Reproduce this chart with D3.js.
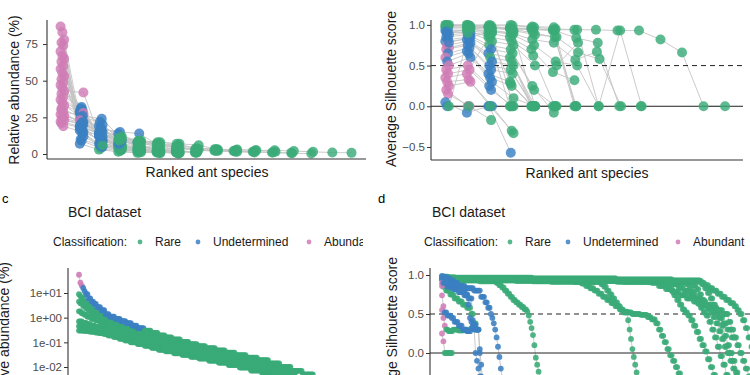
<!DOCTYPE html>
<html>
<head>
<meta charset="utf-8">
<script src="https://cdn.jsdelivr.net/npm/d3@7"></script>
<style>
  body { margin: 0; background: #fff; }
  svg { font-family: "Liberation Sans", Arial, sans-serif; }
  .tick text { fill: #4d4d4d; font-size: 11.5px; }
  .tick line { stroke: #333; }
</style>
</head>
<body>
<svg width="750" height="375"></svg>
<script>
// classification colours: A = abundant, U = undetermined, R = rare
const classColor = { A: "#cf7cb5", U: "#3b80c2", R: "#3aab78" };
const legendItems = [["R", "Rare"], ["U", "Undetermined"], ["A", "Abundant"]];

// panel a: relative abundance (%) of ranked ant species, one array per community
const antAbundance = [
  [87, 7, 3, 1.5, 0.8], [83, 9, 4, 2, 1], [78, 12, 5, 3, 1.2, 0.6], [76, 10, 6, 4, 2, 1],
  [74, 14, 5, 3, 2, 1], [70, 16, 7, 4, 2, 1], [67, 18, 8, 4, 2, 1], [65, 15, 9, 5, 3, 2, 1],
  [63, 20, 8, 5, 2, 1.5], [60, 22, 10, 4, 2, 1, 0.6], [58, 18, 12, 6, 3, 2, 1],
  [55, 25, 10, 5, 3, 1.5, 0.5], [53, 27, 9, 6, 3, 1.5, 0.5], [51, 24, 12, 7, 3, 2, 1],
  [49, 30, 10, 6, 3, 1.5, 0.5], [47, 28, 13, 6, 4, 2], [45, 32, 12, 6, 3, 2],
  [43, 42, 6, 4, 2, 1.5, 1], [41, 31, 14, 7, 4, 2, 1], [39, 26, 16, 9, 5, 3, 2],
  [37, 29, 15, 8, 5, 3, 2, 1], [35, 24, 18, 10, 6, 4, 2, 1], [33, 28, 20, 9, 5, 3, 2],
  [31, 25, 22, 10, 6, 3, 2, 1], [29, 26, 24, 11, 5, 3, 1.5], [27, 23, 19, 14, 8, 5, 3, 1],
  [25, 21, 17, 15, 14, 6, 2, 1], [23, 20, 15, 12, 9, 8, 7, 6, 3, 3, 2.5, 1.5],
  [21, 18, 14, 11, 9, 8, 7, 4, 3.5, 2, 1.5, 1, 0.5, 0.3],
  [19, 15, 13, 11, 8, 7, 6, 3.5, 3, 2.8, 2.5, 2.5, 2, 1.5, 1, 0.8],
  [22, 19, 14, 10, 8, 7, 5, 3, 2.5, 2, 1.5, 1, 0.8], [24, 20, 16, 11, 9, 7, 5, 3, 2.5, 1.5, 1],
  [26, 22, 12, 10, 8, 6, 4, 3, 2, 1.5], [30, 20, 13, 9, 7, 6, 4, 2.5, 2]
];
const antAbundanceClass = [
  "AURRR", "AURRR", "AUURRR", "AUURRR", "AUURRR", "AUURRR", "AUURRR", "AUURRRR",
  "AUURRR", "AUURRRR", "AUUURRR", "AUURRRR", "AAURRRR", "AUURRRR", "AUURRRR", "AUURRR",
  "AUUURR", "AARRRRR", "AUUURRR", "AUUURRR", "AUUURRRR", "AUUURRRR", "AAUURRR",
  "AUUURRRR", "AUUURRR", "AAUUURRR", "AUUUURRR", "AUURRRRRRRRR", "AURRRRRRRRRRRR",
  "AURRRRRRRRRRRRRR", "AUURRRRRRRRRR", "AUURRRRRRRR", "AUURRRRRRR", "AUURRRRRR"
];

// panel b: average silhouette score of ranked ant species, one array per community
const antSilhouette = [
  [1.0, 1.0, 0.98, 0.96, 0.95, 0.94, 0.94, 0.94, 0.93, 0.93, 0.82, 0.66, 0, 0],
  [0.99, 0.99, 0.97, 0.95, 0.94, 0.93, 0.84, 0.78, 0, 0], [1.0, 0.98, 0.96, 0.93, 0.88, 0.85, 0.66, 0.58, 0],
  [0.98, 0.97, 0.94, 0.9, 0.82, 0.78, 0.57, 0.67], [0.95, 0.95, 0.92, 0.88, 0.75, 0.55, 0.5, 0],
  [0.93, 0.93, 0.9, 0.85, 0.7, 0.42, 0.32], [0.9, 0.92, 0.85, 0.8, 0.62, 0, 0],
  [0.88, 0.9, 0.8, 0.75, 0.5, 0.5, 0.78], [0.85, 0.88, 0.75, 0.7, 0.25, -0.08],
  [0.82, 0.85, 0.7, 0.65, 0.2, 0], [0.8, 0.82, 0.65, 0.6, 0, 0], [0.75, 0.8, 0.6, 0.55, 0],
  [0.72, 0.78, 0.55, 0.5, 0], [0.7, 0.75, 0.5, 0.45, 0], [0.65, 0.72, 0.45, 0.4, 0],
  [0.6, 0.68, 0.4, 0.3, 0], [0.55, 0.65, 0.35, 0.25, 0], [0.5, 0.6, 0.3, 0.1, 0],
  [0.45, 0.5, 0.25, 0], [0.4, 0.45, 0.2, 0], [0.35, 0.4, 0.85, 0], [0.3, 0.33, 0, -0.3],
  [0.25, 0.3, 0, -0.33], [0.2, 0, 0, -0.57], [0.15, 0, -0.17], [0.05, -0.08, 0],
  [0, 0, 0, 0, 0, 0], [0, 0.95, 0.9, 0, 0], [1.0, 1.0, 1.0, 1.0, 0.98, 0.97, 0],
  [0.99, 0.99, 0.99, 0.99, 0.97, 0.95, 0.94, 0, 0.93, 0], [0.97, 0.97, 0.97, 0.96, 0.96, 0.93, 0],
  [0.9, 0.95, 0.97, 0.95, 0.9, 0.85, 0], [0.78, 0.85, 0.92, 0.9, 0, 0], [0.92, 0.9, 0.88, 0.28, 0]
];
const antSilhouetteClass = [
  "RRRRRRRRRRRRRR", "RRRRRRRRRR", "RRRRRRRRR", "URRRRRRR", "URRRRRRR", "URRRRRR", "URRRRRR",
  "UURRRRR", "UURRRR", "UUURRR", "UUURRR", "AURRR", "AUURR", "AUURR", "UUURR", "AUURR",
  "UUURR", "AUURR", "AAUR", "AAUR", "AARR", "AAUR", "AAUR", "AAUU", "AAR", "UUU",
  "URRRRR", "RRRRR", "RRRRRRR", "RRRRRRRRRR", "RRRRRRR", "URRRRRR", "UURRRR", "URRRRR"
];

// panel c: BCI relative abundance per plot, as runs of [value, number of ranks, class]
const bciAbundanceRuns = [
  [[0.3,4],[0.29,4],[0.27,4],[0.25,3],[0.235,3],[0.22,3],[0.19,4],[0.165,4],[0.14,4],[0.12,4],
   [0.1,5],[0.085,5],[0.072,5],[0.06,5],[0.05,5],[0.043,6],[0.036,6],[0.031,6],[0.026,6],
   [0.022,7],[0.018,7],[0.015,7],[0.012,8],[0.0095,8],[0.0072,8],[0.0055,8],[0.004,8],[0.0029,8]],
  [[0.45,3],[0.4,3],[0.36,3],[0.33,3],[0.3,3],[0.27,3],[0.26,3],[0.23,4],[0.2,4],[0.165,4],[0.135,4],
   [0.112,5],[0.095,5],[0.08,5],[0.068,5],[0.056,5],[0.048,6],[0.04,6],[0.034,6],[0.029,6],
   [0.024,7],[0.02,7],[0.016,7],[0.013,8],[0.01,8],[0.0078,8],[0.006,8],[0.0044,8],[0.0032,8]],
  [[0.7,3],[0.62,3],[0.55,3],[0.48,3],[0.42,3],[0.38,3],[0.35,3],[0.3,4],[0.24,4],[0.19,4],[0.15,4],
   [0.125,5],[0.105,5],[0.088,5],[0.075,5],[0.063,5],[0.053,6],[0.045,6],[0.038,6],[0.032,6],
   [0.026,7],[0.021,7],[0.018,7],[0.014,8],[0.011,8],[0.0085,8],[0.0065,8],[0.0048,8],[0.0035,8]],
  [[1.8,2],[1.5,2],[1.3,2],[1.1,3],[0.9,3],[0.78,3],[0.65,3],[0.5,3],[0.41,4],[0.34,4],[0.27,4],[0.2,4],
   [0.165,5],[0.135,5],[0.11,5],[0.095,5],[0.08,5],[0.066,6],[0.054,6],[0.045,6],[0.038,6],
   [0.032,7],[0.026,7],[0.022,7],[0.017,8],[0.013,8],[0.01,8],[0.008,8],[0.006,8],[0.0043,8]],
  [[4.5,1],[3.8,2],[3.0,2],[2.4,2],[1.9,2],[1.6,2],[1.4,1],[1.15,3],[0.92,3],[0.7,3],[0.58,4],[0.47,4],
   [0.38,4],[0.29,4],[0.235,5],[0.19,5],[0.155,5],[0.125,5],[0.1,5],[0.083,6],[0.068,6],[0.056,6],
   [0.048,6],[0.04,7],[0.033,7],[0.028,7],[0.022,8],[0.017,8],[0.013,8],[0.01,8],[0.0075,8],[0.0054,8]],
  [[9,1],[7.5,1],[6,2],[4.5,2],[3.4,2],[2.6,2],[2.0,2],[1.6,3],[1.25,3],[0.95,3],[0.8,4],[0.64,4],
   [0.52,4],[0.41,4],[0.33,5],[0.27,5],[0.22,5],[0.175,5],[0.14,5],[0.115,6],[0.093,6],[0.075,6],
   [0.065,6],[0.054,7],[0.043,7],[0.035,7],[0.028,8],[0.022,8],[0.017,8],[0.013,8],[0.0095,8],[0.0068,8]],
  [[55,1,"A"],[26,1,"A"],[20,1,"A"],[16,1,"U"],[12,1,"U"],[9,2,"U"],[6,2,"U"],[4.5,2,"U"],[3.6,2,"U"],
   [2.7,3,"U"],[2.0,3,"U"],[1.4,3,"U"],[1.1,4,"U"],[0.9,4,"U"],[0.72,4,"U"],[0.6,4,"U"],[0.48,4,"U"],
   [0.38,5,"U"],[0.3,5],[0.24,5],[0.19,5],[0.16,5],[0.13,6],[0.105,6],[0.085,6],[0.07,6],[0.058,7],
   [0.047,7],[0.038,7],[0.03,8],[0.024,8],[0.019,8],[0.014,8],[0.01,8],[0.007,8],[0.005,8],[0.0035,8]]
];
const bciAbundanceTicks = [10, 1, 0.1, 0.01];
const bciAbundanceTickLabels = ["1e+01", "1e+00", "1e-01", "1e-02"];

// panel d: BCI average silhouette score per plot, as runs of [value, number of ranks, class]
const bciSilhouetteRuns = [
  [[0.97,1,"U"],[0.95,2],[0.94,12],[0.93,12],[0.92,12],[0.9,2],[0.87,2],[0.84,2],[0.8,2],[0.76,2],
   [0.72,2],[0.68,2],[0.65,2],[0.62,2],[0.59,2],[0.56,2],[0.53,1],[0.48,1],[0.4,1],[0.32,1],[0.23,1],
   [0.1,1],[-0.06,1],[-0.15,1],[-0.24,1],[-0.33,1]],
  [[0.96,3],[0.945,25],[0.935,25],[0.925,25],[0.915,22],[0.89,3],[0.86,3],[0.83,3],[0.8,3],[0.76,3],
   [0.72,3],[0.68,3],[0.64,3],[0.6,3],[0.56,3],[0.53,3],[0.42,1],[0.3,1],[0.18,1],[0.05,1],[-0.05,1],
   [-0.15,1],[-0.25,1],[-0.35,1]],
  [[0.95,5],[0.94,30],[0.93,30],[0.92,30],[0.91,19],[0.88,2],[0.85,2],[0.8,2],[0.75,2],[0.7,2],[0.65,2],
   [0.6,2],[0.55,2],[0.52,6],[0.5,6],[0.49,5],[0.46,3],[0.43,3],[0.38,2],[0.3,2],[0.22,2],[0.14,2],
   [0.05,2],[-0.03,2],[-0.1,2],[-0.18,2],[-0.26,2],[-0.34,2]],
  [[0.96,5],[0.945,40],[0.935,40],[0.925,40],[0.915,35],[0.88,2],[0.84,2],[0.8,2],[0.74,2],[0.68,2],
   [0.62,2],[0.56,2],[0.52,2],[0.48,2],[0.42,2],[0.35,2],[0.27,2],[0.18,2],[0.1,2],[0.02,2],[-0.08,2],
   [-0.18,2],[-0.28,2]],
  [[0.96,20],[0.94,60],[0.93,60],[0.92,25],[0.88,4],[0.84,4],[0.8,4],[0.75,4],[0.7,4],[0.66,4],
   [0.62,4],[0.58,4],[0.55,4],[0.5,4],[0.4,2],[0.3,2],[0.2,2],[0.1,2],[0,2],[-0.1,2],[-0.2,2],[-0.3,2]],
  [[0.97,5],[0.95,40],[0.94,50],[0.93,50],[0.92,30],[0.88,2],[0.83,2],[0.78,2],[0.7,2],[0.63,2],[0.58,2],
   [0.52,2],[0.48,2],[0.4,2],[0.3,2],[0.2,2],[0.08,2],[-0.04,2],[-0.15,2],[-0.28,2]],
  [[0.95,10],[0.935,60],[0.925,60],[0.915,20],[0.9,5],[0.86,5],[0.82,5],[0.78,5],[0.74,5],[0.7,5],
   [0.66,5],[0.62,5],[0.58,5],[0.52,3],[0.45,3],[0.38,3],[0.3,3],[0.2,3]],
  [[0.96,10],[0.945,50],[0.935,50],[0.925,50],[0.91,20],[0.87,2],[0.82,2],[0.75,2],[0.68,2],[0.62,2],
   [0.57,2],[0.53,2],[0.46,2],[0.38,2],[0.28,2],[0.18,2],[0.08,2],[0,2],[-0.1,2],[-0.2,2],[-0.3,2]],
  [[0.97,10],[0.955,50],[0.945,50],[0.935,50],[0.92,26],[0.88,2],[0.83,2],[0.77,2],[0.7,2],[0.62,2],
   [0.55,2],[0.46,2],[0.35,2],[0.22,2],[0.1,2],[0,2],[-0.1,2],[-0.25,2]],
  [[0.98,5],[0.965,60],[0.955,60],[0.945,40],[0.93,20],[0.9,3],[0.87,3],[0.83,3],[0.8,3],[0.76,3],
   [0.72,3],[0.68,3],[0.64,3],[0.6,2],[0.55,2],[0.5,2],[0.42,2],[0.32,2],[0.2,2],[0.08,2],[-0.05,2],[-0.2,2]],
  [[0.95,1,"U"],[0.85,2],[0.8,3],[0.75,3],[0.7,3],[0.66,3],[0.62,3],[0.58,3],[0.5,2],[0.38,2],[0.3,2]],
  [[0.55,1,"A"],[0.45,1,"A"],[0.35,1,"A"],[0.3,2],[0.28,3],[0.3,4],[0.29,4],[0.3,3]],
  [[0.25,1,"A"],[0.15,1,"A"],[0,6]],
  [[0.74,1,"A"],[0.6,1,"A"],[0.52,2,"U"],[0.48,3,"U"],[0.45,2,"U"],[0.4,3,"U"],[0.35,3,"U"],[0.3,3,"U"],
   [0.28,3,"U"],[0.32,3,"U"],[0.3,3,"U"],[0,1,"U"],[-0.3,1,"U"]],
  [[0.99,1,"U"],[0.98,2,"U"],[0.96,3,"U"],[0.93,3,"U"],[0.9,3,"U"],[0.86,3,"U"],[0.8,2,"U"],[0.75,2,"U"],
   [0.62,1,"U"],[0.45,1,"U"],[0.4,1,"U"],[0.35,1,"U"],[0.3,1,"U"],[0,1,"U"],[-0.1,1,"U"],[-0.2,1,"U"],[-0.3,1,"U"]],
  [[0.9,1,"A"],[0.88,3,"U"],[0.85,4,"U"],[0.82,4,"U"],[0.78,4,"U"],[0.74,3,"U"],[0.7,3,"U"],[0.42,1,"U"],
   [0.36,2,"U"],[0.3,2,"U"],[0.05,1,"U"],[-0.15,1,"U"],[-0.35,1,"U"]],
  [[0.86,1,"A"],[0.9,4,"U"],[0.88,6,"U"],[0.86,6,"U"],[0.83,6,"U"],[0.8,5,"U"],[0.72,3,"U"],[0.65,2,"U"],
   [0.58,2,"U"],[0.5,1,"U"],[0.45,1,"U"],[0.38,1,"U"],[0.3,1,"U"],[0.2,1,"U"],[0.08,1,"U"],[-0.05,1,"U"],
   [-0.2,1,"U"],[-0.32,1,"U"]]
];
const silTicks = [1.0, 0.5, 0.0, -0.5];

const svg = d3.select("svg");

const fromValues = (values, classes) =>
  values.map((v, i) => ({ rank: i + 1, value: v, cls: classes[i] }));

const fromRuns = (runs) => {
  const out = [];
  let rank = 0;
  runs.forEach(([v, n, c]) => {
    for (let k = 0; k < n; k++) out.push({ rank: ++rank, value: v, cls: c || "R" });
  });
  return out;
};

// gray connecting lines first, points on top
function drawCurves(g, curves, x, y, jitter) {
  const line = d3.line()
    .x((d) => x(d.rank) + d.dx)
    .y((d) => y(d.value));
  curves.forEach((pts, ci) => pts.forEach((d) => (d.dx = jitter ? ((ci * 7) % 5 - 2) * jitter : 0)));
  g.append("g").selectAll("path")
    .data(curves)
    .enter()
    .append("path")
    .attr("d", line)
    .attr("fill", "none")
    .attr("stroke", "#c4c4c4")
    .attr("stroke-width", 0.9);
  return g.append("g");
}

function drawPoints(g, curves, x, y, r, opacity) {
  curves.forEach((pts) => {
    g.selectAll(null)
      .data(pts)
      .enter()
      .append("circle")
      .attr("cx", (d) => x(d.rank) + d.dx)
      .attr("cy", (d) => y(d.value))
      .attr("r", r)
      .attr("fill", (d) => classColor[d.cls])
      .attr("fill-opacity", opacity);
  });
}

function yAxis(g, scale, xPos, ticks, fmt, pad) {
  const ax = g.append("g")
    .attr("transform", `translate(${xPos},0)`)
    .call(d3.axisLeft(scale).tickValues(ticks).tickFormat(fmt).tickSize(4).tickPadding(pad));
  ax.select(".domain").remove();
}

function axisLine(g, x1, y1, x2, y2) {
  g.append("line")
    .attr("x1", x1).attr("y1", y1).attr("x2", x2).attr("y2", y2)
    .attr("stroke", "#333").attr("stroke-width", 1.1);
}

function hline(g, x1, x2, yv, dashed) {
  g.append("line")
    .attr("x1", x1).attr("x2", x2).attr("y1", yv).attr("y2", yv)
    .attr("stroke", "#222").attr("stroke-width", 1)
    .attr("stroke-dasharray", dashed ? "5,4" : null);
}

function title(g, text, x, y, rot, anchor) {
  g.append("text")
    .attr("transform", `translate(${x},${y})` + (rot ? " rotate(-90)" : ""))
    .attr("text-anchor", anchor || "middle")
    .attr("font-size", 14)
    .attr("fill", "#1a1a1a")
    .text(text);
}

// ---------- panel a ----------
{
  const g = svg.append("g");
  const x = d3.scaleLinear().domain([0.2, 16.8]).range([47, 366]);
  const y = d3.scaleLinear().domain([-3.4, 91.4]).range([159, 20]);
  const curves = antAbundance.map((v, i) => fromValues(v, antAbundanceClass[i]));
  const pg = drawCurves(g, curves, x, y, 0.9);
  drawPoints(pg, curves, x, y, 5, 0.82);
  axisLine(g, 47, 20, 47, 159);
  axisLine(g, 47, 159, 366, 159);
  yAxis(g, y, 47, [0, 25, 50, 75], d3.format("d"), 5);
  title(g, "Relative abundance (%)", 19, 90, true);
  title(g, "Ranked ant species", 207, 177, false);
}

// ---------- panel b ----------
{
  const g = svg.append("g");
  const x = d3.scaleLinear().domain([0.25, 14.75]).range([431, 743]);
  const y = d3.scaleLinear().domain([-0.66, 1.06]).range([160, 20]);
  const curves = antSilhouette.map((v, i) => fromValues(v, antSilhouetteClass[i]));
  const pg = drawCurves(g, curves, x, y, 0.9);
  hline(g, 431, 743, y(0.5), true);
  hline(g, 431, 743, y(0), false);
  g.node().appendChild(pg.node());
  drawPoints(pg, curves, x, y, 5, 0.82);
  axisLine(g, 431, 20, 431, 160);
  axisLine(g, 431, 160, 743, 160);
  yAxis(g, y, 431, silTicks, d3.format(".1f"), 2);
  title(g, "Average Silhouette score", 396, 89, true);
  title(g, "Ranked ant species", 587, 178, false);
}

function legend(g, x0, y0, positions) {
  g.append("text").attr("x", x0).attr("y", y0 + 4)
    .attr("font-size", 12).attr("fill", "#1a1a1a").text("Classification:");
  legendItems.forEach(([c, label], i) => {
    g.append("circle").attr("cx", positions[i]).attr("cy", y0).attr("r", 2.4)
      .attr("fill", classColor[c]).attr("fill-opacity", 0.85);
    g.append("text").attr("x", positions[i] + 15).attr("y", y0 + 4)
      .attr("font-size", 12).attr("fill", "#1a1a1a").text(label);
  });
}

// ---------- panel c ----------
svg.append("defs").append("clipPath").attr("id", "clipC")
  .append("rect").attr("x", 0).attr("y", 180).attr("width", 363).attr("height", 200);
{
  const g = svg.append("g").attr("clip-path", "url(#clipC)");
  g.append("text").attr("x", 2).attr("y", 203).attr("font-size", 13).text("c");
  g.append("text").attr("x", 68).attr("y", 217).attr("font-size", 14).attr("fill", "#1a1a1a").text("BCI dataset");
  legend(g, 53, 242, [140, 198, 309]);
  const x = d3.scaleLinear().domain([1, 201]).range([79, 359]);
  const y = d3.scaleLog().domain([10, 0.01]).range([293, 367]);
  const curves = bciAbundanceRuns.map(fromRuns);
  const pg = drawCurves(g, curves, x, y, 0);
  drawPoints(pg, curves, x, y, 2.9, 0.9);
  axisLine(g, 68, 268, 68, 380);
  yAxis(g, y, 68, bciAbundanceTicks, (d, i) => bciAbundanceTickLabels[i], 2);
  title(g, "Relative abundance (%)", 9, 262, true, "end");
}

// ---------- panel d ----------
{
  const g = svg.append("g");
  g.append("text").attr("x", 378).attr("y", 203).attr("font-size", 13).text("d");
  g.append("text").attr("x", 432).attr("y", 217).attr("font-size", 14).attr("fill", "#1a1a1a").text("BCI dataset");
  legend(g, 424, 242, [510, 568, 678]);
  const x = d3.scaleLinear().domain([1, 201]).range([442, 722]);
  const y = d3.scaleLinear().domain([1, 0]).range([275, 353]);
  const curves = bciSilhouetteRuns.map(fromRuns);
  const pg = drawCurves(g, curves, x, y, 0);
  hline(g, 430, 750, y(0.5), true);
  hline(g, 430, 750, y(0), false);
  g.node().appendChild(pg.node());
  drawPoints(pg, curves, x, y, 2.9, 0.88);
  axisLine(g, 430, 268, 430, 380);
  yAxis(g, y, 430, [1.0, 0.5, 0.0], d3.format(".1f"), 2);
  title(g, "Average Silhouette score", 397, 257, true, "end");
}
</script>
</body>
</html>
